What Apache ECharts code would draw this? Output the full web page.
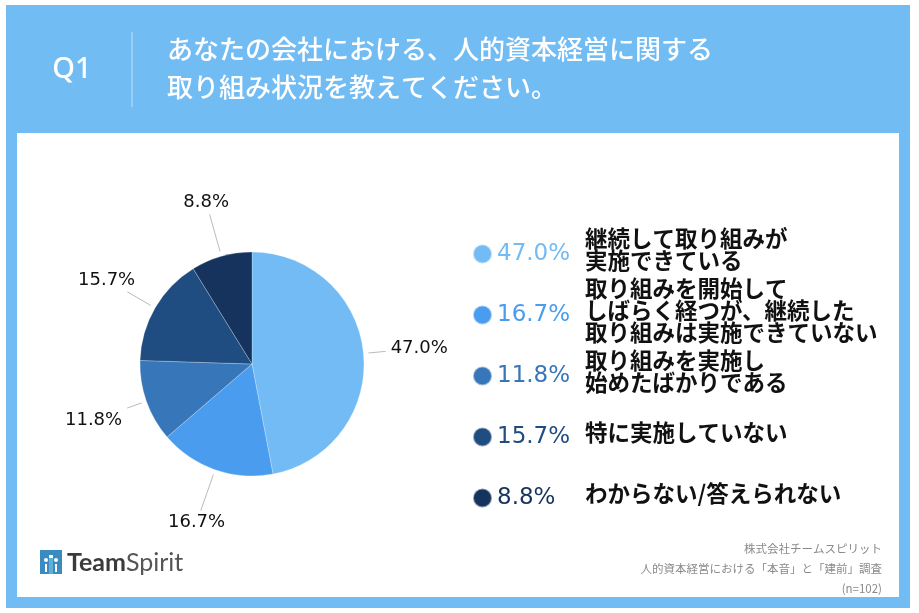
<!DOCTYPE html>
<html><head><meta charset="utf-8">
<script src="https://cdn.jsdelivr.net/npm/echarts@6/dist/echarts.min.js"></script>
<style>html,body{margin:0;padding:0;background:#fff}#c{width:919px;height:613px}</style>
</head><body><div id="c"></div>
<script>
// ---- data ----
const categories = [
  '継続して取り組みが\n実施できている',
  '取り組みを開始して\nしばらく経つが、継続した\n取り組みは実施できていない',
  '取り組みを実施し\n始めたばかりである',
  '特に実施していない',
  'わからない/答えられない'
];
const values = [47.0, 16.7, 11.8, 15.7, 8.8];
const colors = ['#72bbf4', '#4a9cee', '#3776b9', '#1f4c81', '#16335e'];
const questionLabel = 'Q1';
const titleLines = ['あなたの会社における、人的資本経営に関する', '取り組み状況を教えてください。'];
const sourceLines = ['株式会社チームスピリット', '人的資本経営における「本音」と「建前」調査', '(n=102)'];
const brandBold = 'Team';
const brandLight = 'Spirit';

// ---- layout ----
const CX = 252, CY = 364, R = 112, LABEL_R = 168;
const JP = '"Noto Sans CJK JP", "Noto Sans", sans-serif';
const total = values.reduce((a, b) => a + b, 0);
const cum = [];
values.reduce((acc, v, i) => { cum[i] = acc; return acc + v; }, 0);

const chart = echarts.init(document.getElementById('c'), null, {renderer: 'canvas'});

const graphics = [
  {type: 'rect', z: -10, shape: {x: 6, y: 5, width: 904, height: 603}, style: {fill: '#72bcf4'}},
  {type: 'rect', z: -9, shape: {x: 17, y: 133, width: 882, height: 464}, style: {fill: '#ffffff'}},
  {type: 'text', style: {text: questionLabel, x: 72, y: 70, align: 'center', verticalAlign: 'middle',
    fill: '#ffffff', fontSize: 29, fontWeight: 500, fontFamily: '"Noto Sans", sans-serif'}},
  {type: 'line', shape: {x1: 132, y1: 32, x2: 132, y2: 107}, style: {stroke: 'rgba(255,255,255,0.55)', lineWidth: 1}},
];
titleLines.forEach((t, i) => graphics.push({type: 'text', style: {text: t, x: 167, y: 49 + i * 38,
  align: 'left', verticalAlign: 'middle', fill: '#ffffff', fontSize: 26, fontWeight: 500, fontFamily: JP}}));
categories.forEach((c, i) => graphics.push({type: 'text', style: {text: c, x: 585, y: 249 + i * 61,
  align: 'left', verticalAlign: 'middle', fill: '#111111', fontSize: 22.5, lineHeight: 22, fontWeight: 'bold', fontFamily: JP}}));
sourceLines.forEach((t, i) => graphics.push({type: 'text', style: {text: t, x: 882, y: 549 + i * 20,
  align: 'right', verticalAlign: 'middle', fill: '#8a8a8a', fontSize: 11.5, fontFamily: JP}}));
// logo
graphics.push({type: 'group', x: 40, y: 550, children: [
  {type: 'rect', shape: {x: 0, y: 0, width: 22, height: 5}, style: {fill: '#3a8cc0'}},
  {type: 'rect', shape: {x: 0, y: 5, width: 9, height: 19}, style: {fill: '#3a8cc0'}},
  {type: 'rect', shape: {x: 13, y: 5, width: 9, height: 19}, style: {fill: '#3a8cc0'}},
  {type: 'rect', shape: {x: 9, y: 8, width: 4, height: 16}, style: {fill: '#5fb0d8'}},
  {type: 'circle', shape: {cx: 6, cy: 10, r: 2}, style: {fill: '#ffffff'}},
  {type: 'circle', shape: {cx: 16, cy: 10, r: 2}, style: {fill: '#ffffff'}},
  {type: 'rect', shape: {x: 5, y: 14, width: 2, height: 8}, style: {fill: '#ffffff'}},
  {type: 'rect', shape: {x: 15, y: 14, width: 2, height: 8}, style: {fill: '#ffffff'}}
]});
graphics.push({type: 'text', style: {text: '{b|' + brandBold + '}{n|' + brandLight + '}', x: 67, y: 563,
  verticalAlign: 'middle', align: 'left',
  rich: {b: {fontSize: 25, fontWeight: 'bold', fill: '#3b3b3b', fontFamily: 'Lato, "Noto Sans", sans-serif'},
         n: {fontSize: 25, fontWeight: 'normal', fill: '#555555', fontFamily: 'Lato, "Noto Sans", sans-serif'}}}});

chart.setOption({
  animation: false,
  graphic: graphics,
  legend: {
    orient: 'vertical', left: 467, top: 237, itemWidth: 19, itemHeight: 19, itemGap: 37,
    icon: 'circle', selectedMode: false,
    data: categories.map((c, i) => ({name: c, textStyle: {color: colors[i]}})),
    formatter: name => values[categories.indexOf(name)].toFixed(1) + '%',
    textStyle: {fontSize: 23, lineHeight: 24, fontFamily: '"DejaVu Sans", sans-serif', padding: [0, 0, 0, 0]}
  },
  series: [{
    type: 'pie',
    center: [CX, CY], radius: R, startAngle: 90, clockwise: true,
    color: colors,
    itemStyle: {borderColor: 'rgba(255,255,255,0.5)', borderWidth: 0.5},
    data: categories.map((c, i) => ({name: c, value: values[i]})),
    label: {show: true, position: 'outside', color: '#111', fontSize: 18,
      fontFamily: '"DejaVu Sans", sans-serif',
      formatter: p => p.value.toFixed(1) + '%'},
    labelLine: {show: true, length: 30, length2: 0, lineStyle: {color: '#bbbbbb', width: 1}},
    labelLayout: function (p) {
      const i = p.dataIndex;
      const th = (cum[i] + values[i] / 2) / total * Math.PI * 2;
      const dx = Math.sin(th), dy = -Math.cos(th);
      const lc = [CX + dx * LABEL_R, CY + dy * LABEL_R];
      const hw = p.labelRect.width / 2 + 5, hh = p.labelRect.height / 2 + 3;
      const t = Math.min(Math.abs(dx) > 1e-6 ? hw / Math.abs(dx) : 1e9, Math.abs(dy) > 1e-6 ? hh / Math.abs(dy) : 1e9);
      const end = [lc[0] - dx * t, lc[1] - dy * t];
      const start = [CX + dx * (R + 5), CY + dy * (R + 5)];
      return {x: lc[0], y: lc[1], align: 'center', verticalAlign: 'middle', labelLinePoints: [start, end, end]};
    }
  }]
});
</script>
</body></html>
